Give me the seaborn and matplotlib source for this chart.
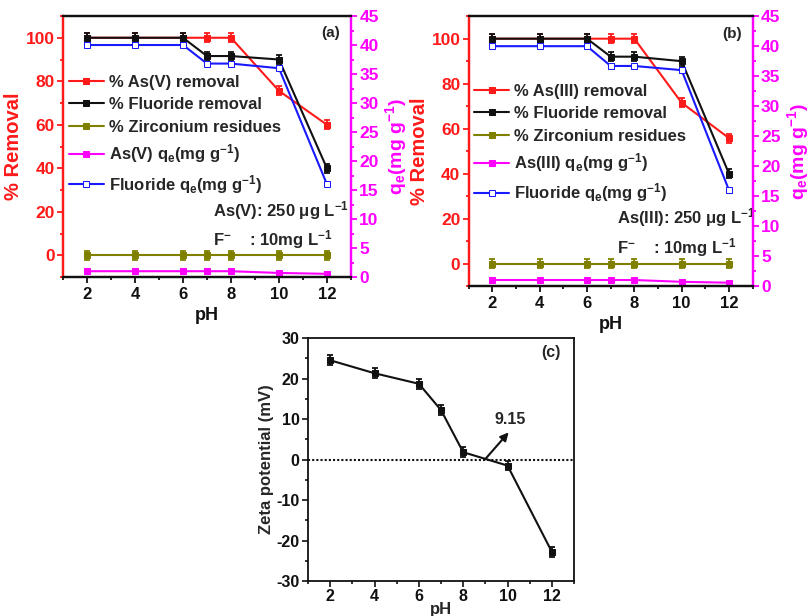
import numpy as np
import pandas as pd
import matplotlib
matplotlib.use("Agg")
import matplotlib.pyplot as plt
import seaborn as sns
from matplotlib.ticker import MultipleLocator

# ---------------- data ----------------
ph = [2, 4, 6, 7, 8, 10, 12]

as5_removal = [100, 100, 100, 100, 100, 75.6, 60.0]
f_removal_a = [100, 100, 100, 91.6, 91.6, 90.0, 40.0]
zr_a = [0, 0, 0, 0, 0, 0, 0]
as5_qe = [1.0, 1.0, 1.0, 1.0, 1.0, 0.7, 0.55]
f_qe_a = [40.0, 40.0, 40.0, 36.8, 36.8, 36.0, 16.0]

as3_removal = [100, 100, 100, 100, 100, 71.5, 55.8]
f_removal_b = [100, 100, 100, 92.0, 92.0, 90.0, 40.0]
zr_b = [0, 0, 0, 0, 0, 0, 0]
as3_qe = [1.0, 1.0, 1.0, 1.0, 1.0, 0.7, 0.55]
f_qe_b = [40.0, 40.0, 40.0, 36.7, 36.7, 36.0, 16.0]

err_removal = [2.0, 2.0, 2.0, 2.0, 2.0, 2.0, 2.0]

zeta = [24.5, 21.3, 18.7, 12.2, 1.8, -1.5, -22.8]
zeta_err = [1.2, 1.2, 1.2, 1.2, 1.2, 1.2, 1.2]

RED = "#ff1a1a"
BLACK = "#111111"
OLIVE = "#808000"
MAGENTA = "#ff00ff"
BLUE = "#1a1aff"

sns.set_style("ticks")
plt.rcParams["font.family"] = ["Liberation Sans", "DejaVu Sans"]
plt.rcParams["font.weight"] = "bold"
plt.rcParams["axes.labelweight"] = "bold"
plt.rcParams["axes.unicode_minus"] = False
plt.rcParams["mathtext.fontset"] = "custom"
plt.rcParams["mathtext.rm"] = "Liberation Sans:bold"
plt.rcParams["mathtext.bf"] = "Liberation Sans:bold"
plt.rcParams["mathtext.it"] = "Liberation Sans:bold"
plt.rcParams["mathtext.default"] = "bf"

fig = plt.figure(figsize=(8.11, 6.16), dpi=100)


def line(ax, x, y, color, label, mfc=None, zorder=2):
    df = pd.DataFrame({"pH": x, "v": y})
    sns.lineplot(data=df, x="pH", y="v", ax=ax, color=color, marker="s",
                 markersize=4, linewidth=1.5, markeredgecolor=color,
                 markerfacecolor=mfc if mfc else color, label=label,
                 legend=False, zorder=zorder)
    return ax.lines[-1]


def ebar(ax, y, color, zorder):
    ax.errorbar(ph, y, yerr=err_removal, fmt="none", ecolor=color,
                capsize=2.5, elinewidth=1.3, capthick=1.3, zorder=zorder)


def removal_panel(rect, as_rem, f_rem, zr, as_qe, f_qe, as_name, tag,
                  leg_y):
    ax = fig.add_axes(rect)
    ax2 = ax.twinx()
    h1 = line(ax, ph, as_rem, RED, f"% {as_name} removal", zorder=2)
    ebar(ax, as_rem, RED, 2)
    h2 = line(ax, ph, f_rem, BLACK, "% Fluoride removal", zorder=3)
    ebar(ax, f_rem, BLACK, 3)
    h3 = line(ax, ph, zr, OLIVE, "% Zirconium residues", zorder=3)
    ebar(ax, zr, OLIVE, 3)
    h4 = line(ax2, ph, as_qe, MAGENTA, f"{as_name} q$_e$(mg g$^{{-1}}$)")
    h5 = line(ax2, ph, f_qe, BLUE, "Fluoride q$_e$(mg g$^{-1}$)", mfc="white")

    ax.set_xlim(1, 13)
    ax.set_ylim(-10, 110)
    ax2.set_ylim(0, 45)
    ax.xaxis.set_major_locator(MultipleLocator(2))
    ax.xaxis.set_minor_locator(MultipleLocator(1))
    ax.yaxis.set_major_locator(MultipleLocator(20))
    ax.yaxis.set_minor_locator(MultipleLocator(10))
    ax2.yaxis.set_major_locator(MultipleLocator(5))
    ax2.yaxis.set_minor_locator(MultipleLocator(2.5))

    for a in (ax, ax2):
        a.spines["left"].set_color(RED)
        a.spines["right"].set_color(MAGENTA)
        a.spines["top"].set_color(BLACK)
        a.spines["bottom"].set_color(BLACK)
        for s in a.spines.values():
            s.set_linewidth(1.6)
            s.set_visible(True)

    ax.tick_params(axis="x", which="both", direction="out", colors=BLACK,
                   labelsize=12, width=1.3, pad=3)
    ax.tick_params(axis="x", which="major", length=4)
    ax.tick_params(axis="x", which="minor", length=2.5)
    ax.tick_params(axis="y", which="both", direction="out", colors=RED,
                   labelsize=12.5, width=1.3, pad=2)
    ax.tick_params(axis="y", which="major", length=4)
    ax.tick_params(axis="y", which="minor", length=2.5)
    ax2.tick_params(axis="y", which="both", direction="out", colors=MAGENTA,
                    labelsize=12.5, width=1.3, pad=2)
    ax2.tick_params(axis="y", which="major", length=4)
    ax2.tick_params(axis="y", which="minor", length=2.5)

    ax.set_xlabel("pH", fontsize=13, labelpad=4, color=BLACK)
    ax.set_ylabel("% Removal", fontsize=14.5, color=RED, labelpad=2)
    ax2.set_ylabel("q$_e$(mg g$^{-1}$)", fontsize=14, color=MAGENTA, labelpad=3)

    leg = ax2.legend([h1, h2, h3, h4, h5],
                     [h.get_label() for h in (h1, h2, h3, h4, h5)],
                     loc="upper left", bbox_to_anchor=(0.02, leg_y),
                     frameon=False, fontsize=12, handlelength=2.1,
                     handletextpad=0.3, labelspacing=0.45, borderaxespad=0,
                     borderpad=0)
    for t in leg.get_texts():
        t.set_fontweight("bold")

    ax.text(12.55, 102, tag, fontsize=11, ha="right", va="center")
    ax.text(7.25, 20.5, f"{as_name}: 250 $\\mu$g L$^{{-1}}$", fontsize=12,
            ha="left", va="center")
    ax.text(7.25, 7.2, "F$^{-}$    : 10mg L$^{-1}$", fontsize=12,
            ha="left", va="center")
    return ax, ax2


removal_panel([0.0777, 0.5503, 0.355, 0.4237], as5_removal, f_removal_a,
              zr_a, as5_qe, f_qe_a, "As(V)", "(a)", 0.775)
removal_panel([0.578, 0.5357, 0.350, 0.438], as3_removal, f_removal_b,
              zr_b, as3_qe, f_qe_b, "As(III)", "(b)", 0.75)

# ---------------- panel (c) ----------------
axc = fig.add_axes([0.3798, 0.0568, 0.328, 0.3945])
dfz = pd.DataFrame({"pH": ph, "zeta": zeta})
sns.lineplot(data=dfz, x="pH", y="zeta", ax=axc, color=BLACK, marker="s",
             markersize=4, linewidth=1.5, markeredgecolor=BLACK, legend=False)
axc.errorbar(ph, zeta, yerr=zeta_err, fmt="none", ecolor=BLACK, capsize=2.5,
             elinewidth=1.3, capthick=1.3)
axc.axhline(0, color=BLACK, linestyle=(0, (1, 1)), linewidth=1.5, zorder=1)
axc.annotate("", xy=(10.05, 6.7), xytext=(8.98, 0),
             arrowprops=dict(arrowstyle="-|>", color=BLACK, lw=1.5,
                             mutation_scale=12, shrinkA=0, shrinkB=0))
axc.text(10.1, 9.9, "9.15", fontsize=11.5, ha="center", va="center")
axc.text(12.4, 26.5, "(c)", fontsize=11.5, ha="right", va="center")
axc.set_xlim(1, 13)
axc.set_ylim(-30, 30)
axc.xaxis.set_major_locator(MultipleLocator(2))
axc.xaxis.set_minor_locator(MultipleLocator(1))
axc.yaxis.set_major_locator(MultipleLocator(10))
axc.yaxis.set_minor_locator(MultipleLocator(5))
for s in axc.spines.values():
    s.set_visible(True)
    s.set_linewidth(1.3)
    s.set_color(BLACK)
axc.tick_params(axis="both", which="both", direction="out", colors=BLACK,
                labelsize=11.5, width=1.2, pad=2)
axc.tick_params(which="major", length=4)
axc.tick_params(which="minor", length=2.5)
axc.set_xlabel("pH", fontsize=12, labelpad=-2)
axc.set_ylabel("Zeta potential (mV)", fontsize=12, labelpad=2)

fig.savefig("out.png", dpi=100)
